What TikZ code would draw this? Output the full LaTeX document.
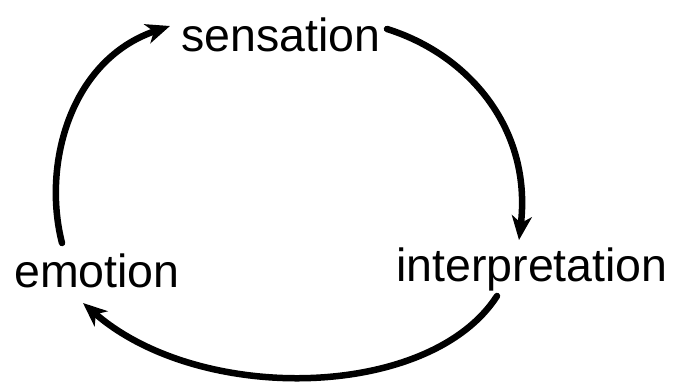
\documentclass[tikz,border=0pt]{standalone}
\usepackage{fontspec}
\setmainfont{Liberation Sans}
\usetikzlibrary{arrows.meta}
\begin{document}
\begin{tikzpicture}[x=1pt,y=-1pt,
  label/.style={font=\fontsize{46.5}{56}\selectfont, inner sep=0pt, anchor=base},
  cycle/.style={line width=6.5pt, line cap=round,
    -{Stealth[length=24pt,width=20pt,inset=7pt]}}]
\useasboundingbox (0,0) rectangle (685,385);
\node[label] (sen) at (281,52) {sensation};
\node[label] (int) at (532,281) {interpretation};
\node[label] (emo) at (97,287) {emotion};
\coordinate (a1) at (62,243);
\coordinate (b1) at (170,26);
\coordinate (a2) at (387,29);
\coordinate (b2) at (519,240);
\coordinate (a3) at (497,296);
\coordinate (b3) at (83,303);
\draw[cycle] (a1) .. controls (42,165) and (70,60) .. (b1);
\draw[cycle] (a2) .. controls (470,55) and (532,130) .. (b2);
\draw[cycle] (a3) .. controls (430,400) and (200,405) .. (b3);
\end{tikzpicture}
\end{document}
